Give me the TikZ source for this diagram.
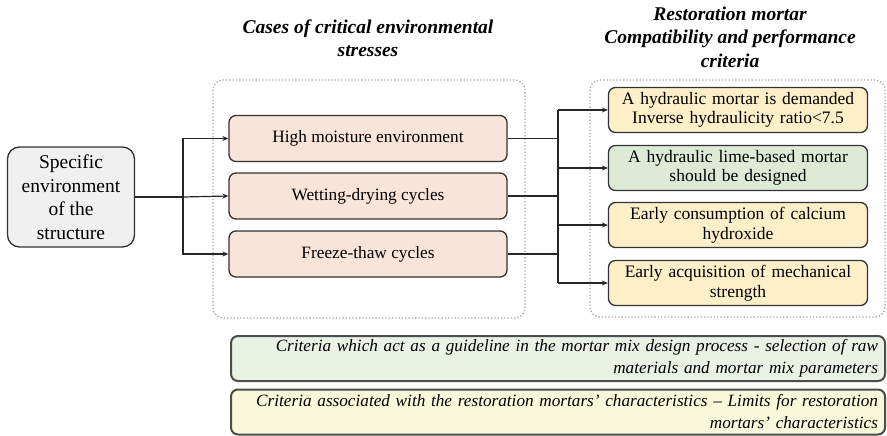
\documentclass[tikz,border=0pt]{standalone}
\usepackage{fontspec}
\setmainfont{Liberation Serif}
\usetikzlibrary{arrows.meta}

\definecolor{envfill}{RGB}{240,240,240}
\definecolor{stressfill}{RGB}{248,228,216}
\definecolor{crityellow}{RGB}{253,239,200}
\definecolor{critgreen}{RGB}{222,233,214}
\definecolor{guidegreen}{RGB}{234,242,228}
\definecolor{limityellow}{RGB}{250,248,218}

\begin{document}
\begin{tikzpicture}[x=1pt, y=-1pt,
	box/.style = {draw=black!80, line width=1.3pt, rounded corners=7pt, align=center, inner sep=2pt},
	stress/.style = {box, fill=stressfill, minimum width=278pt, minimum height=46pt, font=\fontsize{17.3}{20}\selectfont},
	crit/.style = {box, fill=crityellow, text width=255pt, minimum height=45pt, font=\fontsize{17.5}{19.5}\selectfont},
	legend/.style = {box, draw=black!70, line width=2pt, inner xsep=7pt, text width=640pt, align=right, minimum height=45pt, font=\fontsize{17.2}{22}\selectfont\itshape},
	frame/.style = {draw=black!35, dotted, line width=1.3pt, rounded corners=10pt},
	title/.style = {align=center, font=\fontsize{19.5}{23.5}\selectfont\bfseries\itshape},
	link/.style = {line width=1.2pt, black!85},
	>={Stealth[length=6pt,width=5pt]}]
				\useasboundingbox (0,0) rectangle (887,436);
				% dotted groups
				\draw[frame] (213,80) rectangle (525,318);
				\draw[frame] (590,80) rectangle (885,317);
				\node[title] (tstress) at (368,38) {Cases of critical environmental\\stresses};
				\node[title] (tcrit) at (730,37) {Restoration mortar\\Compatibility and performance\\criteria};
				% starting box
				\node[box, rounded corners=12pt, fill=envfill, minimum width=127pt, minimum height=100pt, font=\fontsize{19.5}{23.5}\selectfont] (env) at (71,197) {Specific\\environment\\of the\\structure};
				% environmental stresses
				\node[stress] (moist) at (368,138.5) {High moisture environment};
				\node[stress] (wetdry) at (368,196) {Wetting-drying cycles};
				\node[stress] (freeze) at (368,254) {Freeze-thaw cycles};
				% criteria
				\node[crit] (hydr) at (738,110) {A hydraulic mortar is demanded\\Inverse hydraulicity ratio<7.5};
				\node[crit, fill=critgreen] (lime) at (738,168) {A hydraulic lime-based mortar\\should be designed};
				\node[crit] (calc) at (738,225) {Early consumption of calcium\\hydroxide};
				\node[crit] (mech) at (738,283) {Early acquisition of mechanical\\strength};
				% legend
				\node[legend, fill=guidegreen] (guide) at (558,358.5) {Criteria which act as a guideline in the mortar mix design process - selection of raw\\materials and mortar mix parameters};
				\node[legend, fill=limityellow] (limit) at (558,412) {Criteria associated with the restoration mortars' characteristics -- Limits for restoration\\mortars' characteristics};
				% connectors
				\coordinate (split) at (183,197);
				\coordinate (bus) at (558,0);
				\draw[link] (env) -- (split);
				\draw[link, ->] (split) |- (moist.west);
				\draw[link, ->] (split) -- (wetdry.west);
				\draw[link, ->] (split) |- (freeze.west);
				\draw[link] (moist.east) -- (moist.east -| bus);
				\draw[link] (wetdry.east) -- (wetdry.east -| bus);
				\draw[link] (freeze.east) -- (freeze.east -| bus);
				\draw[link] (hydr.west -| bus) -- (mech.west -| bus);
				\draw[link, ->] (hydr.west -| bus) -- (hydr.west);
				\draw[link, ->] (lime.west -| bus) -- (lime.west);
				\draw[link, ->] (calc.west -| bus) -- (calc.west);
				\draw[link, ->] (mech.west -| bus) -- (mech.west);
\end{tikzpicture}
\end{document}
